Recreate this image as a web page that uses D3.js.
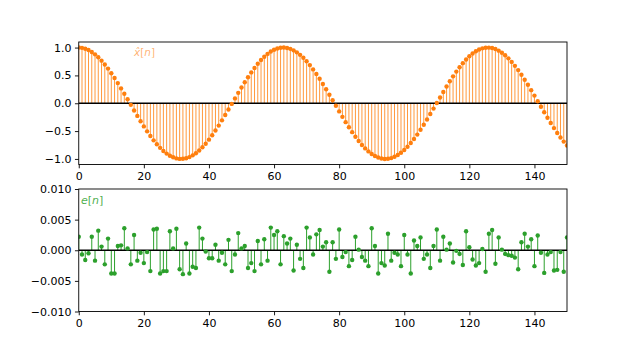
<!DOCTYPE html>
<html>
<head>
<meta charset="utf-8">
<script src="https://cdn.jsdelivr.net/npm/d3@7"></script>
<style>
  html, body { margin: 0; padding: 0; background: #fff; }
  svg { display: block; font-family: "DejaVu Sans", sans-serif; }
</style>
</head>
<body>
<svg id="chart" width="630" height="350"></svg>
<script>
// ---- data ----
const xhat = [
  1.000, 0.995, 0.980, 0.955, 0.921, 0.878, 0.825, 0.765, 0.697, 0.622,
  0.540, 0.454, 0.362, 0.267, 0.170, 0.071, -0.029, -0.129, -0.227, -0.323,
  -0.416, -0.505, -0.589, -0.666, -0.737, -0.801, -0.857, -0.904, -0.942, -0.971,
  -0.990, -0.999, -0.998, -0.988, -0.967, -0.936, -0.897, -0.848, -0.791, -0.726,
  -0.654, -0.575, -0.490, -0.401, -0.307, -0.211, -0.112, -0.012, 0.087, 0.187,
  0.284, 0.378, 0.468, 0.554, 0.634, 0.709, 0.776, 0.835, 0.886, 0.929,
  0.960, 0.983, 0.996, 1.000, 0.993, 0.977, 0.950, 0.914, 0.869, 0.816,
  0.754, 0.685, 0.608, 0.526, 0.439, 0.347, 0.251, 0.153, 0.054, -0.046,
  -0.146, -0.244, -0.339, -0.431, -0.519, -0.602, -0.679, -0.749, -0.811, -0.865,
  -0.911, -0.948, -0.975, -0.992, -1.000, -0.997, -0.985, -0.962, -0.930, -0.889,
  -0.839, -0.781, -0.715, -0.642, -0.563, -0.476, -0.386, -0.291, -0.194, -0.096,
  0.004, 0.104, 0.203, 0.300, 0.394, 0.483, 0.568, 0.647, 0.720, 0.786,
  0.844, 0.893, 0.934, 0.965, 0.986, 0.998, 0.999, 0.991, 0.973, 0.945,
  0.907, 0.861, 0.806, 0.743, 0.672, 0.595, 0.512, 0.423, 0.331, 0.235,
  0.137, 0.037, -0.063, -0.162, -0.260, -0.355, -0.446, -0.533, -0.614, -0.689,
  -0.760
];
const err = [
  0.0022, -0.0007, -0.0016, -0.0005, 0.0022, -0.0017, 0.0032, 0.0006, -0.0023, 0.0019,
  -0.0038, -0.0038, 0.0007, 0.0008, 0.0036, 0.0003, -0.0023, 0.0025, -0.0017, -0.0004,
  -0.0021, -0.0003, -0.0034, 0.0034, 0.0035, -0.0038, -0.0034, -0.0034, 0.0031, 0.0003,
  0.0035, -0.0031, -0.0039, 0.0011, -0.0038, -0.0027, -0.0029, 0.0037, 0.0019, -0.0002,
  -0.0013, -0.0013, 0.0009, -0.0017, -0.0004, -0.0023, 0.0017, -0.0034, -0.0007, 0.0028,
  0.0003, 0.0007, -0.0029, -0.0021, -0.0034, 0.0015, -0.0023, 0.0018, -0.0017, 0.0037,
  0.0025, 0.0031, -0.0023, 0.0023, 0.0011, 0.0019, -0.0033, 0.0009, -0.0014, -0.0029,
  0.0037, 0.0021, -0.0007, 0.0026, 0.0033, 0.0006, 0.0013, -0.0035, 0.0013, -0.0014,
  0.0034, -0.0011, -0.0003, -0.0026, -0.0016, 0.0022, 0.0001, -0.0011, -0.0017, -0.0026,
  0.0036, 0.0007, -0.0038, -0.0021, -0.0025, 0.0027, -0.0017, -0.0004, -0.0007, -0.0026,
  0.0025, -0.0007, -0.0038, 0.0016, 0.0007, 0.0021, -0.0014, -0.0007, -0.0029, 0.0007,
  0.0034, -0.0017, 0.0022, 0.0001, 0.0011, -0.0020, -0.0001, -0.0006, -0.0024, 0.0031,
  0.0005, -0.0015, -0.0025, -0.0021, 0.0002, -0.0035, 0.0027, 0.0033, -0.0022, 0.0021,
  0.0001, -0.0006, -0.0008, -0.0009, -0.0012, -0.0031, 0.0013, 0.0027, 0.0006, 0.0018,
  -0.0026, 0.0024, -0.0004, -0.0037, -0.0007, -0.0003, -0.0033, -0.0032, -0.0003, -0.0035,
  0.0021
];
const xTicks = [0, 20, 40, 60, 80, 100, 120, 140];
const topYTicks = [-1.0, -0.5, 0.0, 0.5, 1.0];
const botYTicks = [-0.010, -0.005, 0.000, 0.005, 0.010];

// ---- layout ----
const svg = d3.select("#chart");
const left = 78.75, right = 567;
const x = d3.scaleLinear().domain([0, 150]).range([left, right]);

function panel(id, data, yDomain, top, bottom, color, stemOpacity, yTicks, yFmt) {
  const y = d3.scaleLinear().domain(yDomain).range([bottom, top]);
  const g = svg.append("g");
  g.append("clipPath").attr("id", id).append("rect")
    .attr("x", left).attr("y", top).attr("width", right - left).attr("height", bottom - top);
  const plot = g.append("g").attr("clip-path", `url(#${id})`);
  const pts = data.map((v, i) => ({ n: i, v }));
  plot.selectAll("line.stem").data(pts).join("line")
    .attr("class", "stem")
    .attr("x1", d => x(d.n)).attr("x2", d => x(d.n))
    .attr("y1", y(0)).attr("y2", d => y(d.v))
    .attr("stroke", color).attr("stroke-opacity", stemOpacity).attr("stroke-width", 1);
  plot.append("line")
    .attr("x1", x(0)).attr("x2", x(150)).attr("y1", y(0)).attr("y2", y(0))
    .attr("stroke", "#000").attr("stroke-width", 1.3);
  plot.selectAll("circle").data(pts).join("circle")
    .attr("cx", d => x(d.n)).attr("cy", d => y(d.v)).attr("r", 2.2)
    .attr("fill", color);

  // axes
  const ax = g.append("g").attr("transform", `translate(0,${bottom})`)
    .call(d3.axisBottom(x).tickValues(xTicks).tickFormat(d3.format("d"))
      .tickSize(3.8).tickPadding(3.5));
  const ay = g.append("g").attr("transform", `translate(${left},0)`)
    .call(d3.axisLeft(y).tickValues(yTicks).tickFormat(d3.format(yFmt))
      .tickSize(3.8).tickPadding(3.5));
  [ax, ay].forEach(a => {
    a.select(".domain").remove();
    a.selectAll("line").attr("stroke", "#000").attr("stroke-width", 0.9);
    a.selectAll("text").attr("fill", "#000").style("font-size", "11px")
      .style("font-family", "'DejaVu Sans', sans-serif");
  });
  g.append("rect").attr("x", left).attr("y", top)
    .attr("width", right - left).attr("height", bottom - top)
    .attr("fill", "none").attr("stroke", "#000").attr("stroke-width", 0.9);
  return { g, y };
}

const p1 = panel("clipTop", xhat, [-1.1, 1.1], 42, 164.5, "#ff7f0e", 0.8, topYTicks, ".1f");
const p2 = panel("clipBot", err, [-0.01, 0.01], 189, 311.5, "#2ca02c", 1, botYTicks, ".3f");

// labels
const t1 = p1.g.append("text").attr("x", 134).attr("y", 55.5)
  .attr("fill", "#ff7f0e").attr("fill-opacity", 0.6)
  .style("font-size", "10.5px").style("font-family", "'DejaVu Sans', sans-serif");
t1.append("tspan").style("font-style", "italic").text("x\u0302");
t1.append("tspan").text("[");
t1.append("tspan").style("font-style", "italic").text("n");
t1.append("tspan").text("]");

const t2 = p2.g.append("text").attr("x", 81).attr("y", 204)
  .attr("fill", "#2ca02c").attr("fill-opacity", 0.85)
  .style("font-size", "11px").style("font-family", "'DejaVu Sans', sans-serif");
t2.append("tspan").style("font-style", "italic").text("e");
t2.append("tspan").text("[");
t2.append("tspan").style("font-style", "italic").text("n");
t2.append("tspan").text("]");
</script>
</body>
</html>
